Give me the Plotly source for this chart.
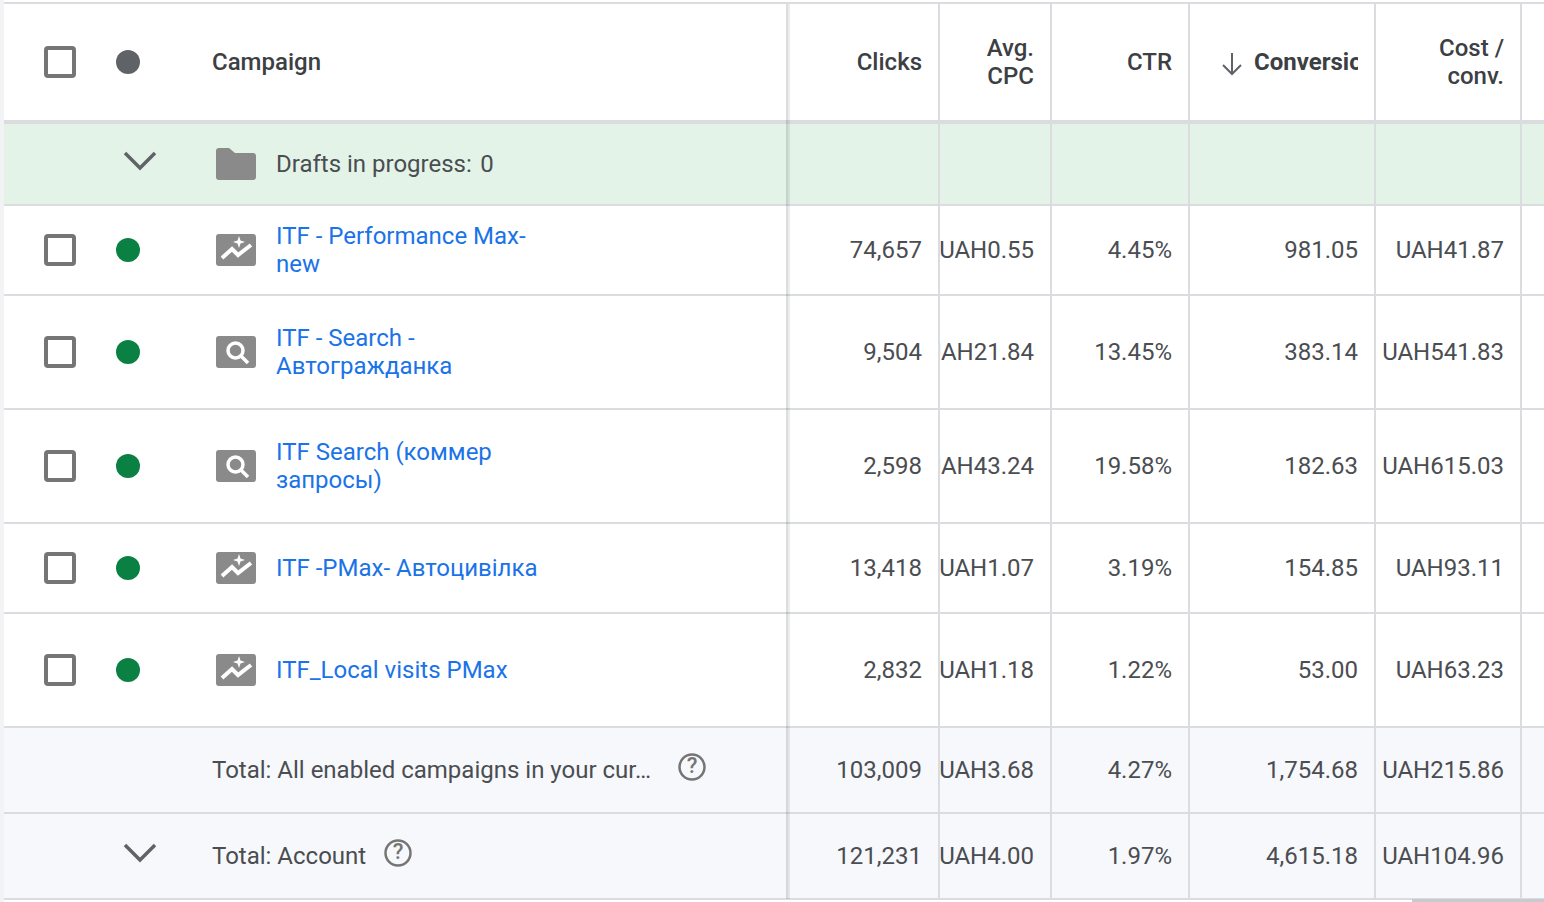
import plotly.graph_objects as go

# table content
headers = ["Clicks", "Avg.<br>CPC", "CTR", "Conversions", "Cost /<br>conv."]
campaigns = ["ITF - Performance Max-<br>new", "ITF - Search -<br>Автогражданка",
             "ITF Search (коммер<br>запросы)", "ITF -PMax- Автоцивілка", "ITF_Local visits PMax"]
campaign_types = ["pmax", "search", "search", "pmax", "pmax"]
clicks = ["74,657", "9,504", "2,598", "13,418", "2,832", "103,009", "121,231"]
avg_cpc = ["UAH0.55", "UAH21.84", "UAH43.24", "UAH1.07", "UAH1.18", "UAH3.68", "UAH4.00"]
ctr = ["4.45%", "13.45%", "19.58%", "3.19%", "1.22%", "4.27%", "1.97%"]
conversions = ["981.05", "383.14", "182.63", "154.85", "53.00", "1,754.68", "4,615.18"]
cost_conv = ["UAH41.87", "UAH541.83", "UAH615.03", "UAH93.11", "UAH63.23", "UAH215.86", "UAH104.96"]
drafts_label = "Drafts in progress:\u200a 0"
total_labels = ["Total: All enabled campaigns in your cur…", "Total: Account"]

# layout of the table, in screenshot pixels
row_y = [250, 352, 466, 568, 670, 770, 856]
h_lines = [3, 205, 295, 409, 523, 613, 727, 813, 899]
v_lines = [939, 1051, 1189, 1375, 1521]
col_right = [922, 1034, 1172, 1358, 1504]
TEXT_DY = 2

DARK = "#3c4043"
BODY = "#4a4d51"
BLUE = "#1a73e8"
GREY = "#757575"
ICON = "#8a8a8a"
LINE = "#dadce0"
FONT = "Roboto"
SIZE = 24

fig = go.Figure()
shapes = []


def rect(x0, y0, x1, y1, fill, layer="below"):
    shapes.append(dict(type="rect", x0=x0, y0=y0, x1=x1, y1=y1, fillcolor=fill,
                       line=dict(width=0), layer=layer))


def path(d, fill=None, color=None, width=0, layer="above"):
    shapes.append(dict(type="path", path=d, fillcolor=fill or "rgba(0,0,0,0)",
                       line=dict(color=color or "rgba(0,0,0,0)", width=width), layer=layer))


def round_rect(x0, y0, x1, y1, r):
    return (f"M{x0+r},{y0} L{x1-r},{y0} Q{x1},{y0} {x1},{y0+r} L{x1},{y1-r} Q{x1},{y1} {x1-r},{y1} "
            f"L{x0+r},{y1} Q{x0},{y1} {x0},{y1-r} L{x0},{y0+r} Q{x0},{y0} {x0+r},{y0} Z")


def checkbox(cy):
    path(round_rect(46, cy - 14, 74, cy + 14, 2), fill="white", color=GREY, width=4)


def chevron(cy):
    path(f"M125,{cy-8} L140,{cy+7} L155,{cy-8}", color="#5f6368", width=3.5)


def pmax_icon(cy):
    path(round_rect(216, cy - 16, 256, cy + 16, 3), fill=ICON)
    path(f"M222,{cy+8} L232,{cy-1} L238,{cy+5} L251,{cy-5}", color="white", width=4)
    sx, sy = 239, cy - 8
    path(f"M{sx},{sy-6} L{sx+1.5},{sy-1.5} L{sx+6},{sy} L{sx+1.5},{sy+1.5} L{sx},{sy+6} "
         f"L{sx-1.5},{sy+1.5} L{sx-6},{sy} L{sx-1.5},{sy-1.5} Z", fill="white")


def search_icon(cy):
    path(round_rect(216, cy - 16, 256, cy + 16, 3), fill=ICON)
    shapes.append(dict(type="circle", x0=228, y0=cy - 9, x1=243, y1=cy + 6, fillcolor="rgba(0,0,0,0)",
                       line=dict(color="white", width=3.5), layer="above"))
    path(f"M241,{cy+4} L248,{cy+11}", color="white", width=3.5)


def folder_icon():
    path("M219,148 L229,148 L235,153 L253,153 Q256,153 256,156 L256,177 Q256,180 253,180 "
         "L219,180 Q216,180 216,177 L216,151 Q216,148 219,148 Z", fill=ICON)


def help_icon(cx, cy):
    shapes.append(dict(type="circle", x0=cx - 12.5, y0=cy - 12.5, x1=cx + 12.5, y1=cy + 12.5,
                       fillcolor="rgba(0,0,0,0)", line=dict(color=GREY, width=2.5), layer="above"))
    fig.add_trace(go.Scatter(x=[cx], y=[cy], mode="text", text=["?"], textposition="middle center",
                             textfont=dict(family=FONT, size=22, color=GREY, weight=500)))


def add_text(xs, ys, texts, color=BODY, pos="middle left", size=SIZE, weight=400):
    fig.add_trace(go.Scatter(x=xs, y=[y + TEXT_DY for y in ys], mode="text", text=texts, textposition=pos,
                             textfont=dict(family=FONT, size=size, color=color, weight=weight)))


def split_lines(labels, ys, gap=14):
    # two line labels sit either side of the row centre, 28px apart
    out_t, out_y = [], []
    for label, y in zip(labels, ys):
        parts = label.split("<br>")
        for i, part in enumerate(parts):
            out_t.append(part)
            out_y.append(y + (2 * i - len(parts) + 1) * gap)
    return out_t, out_y


# backgrounds
rect(0, 0, 4, 902, "#f1f3f4")
rect(4, 124, 1544, 204, "#e4f3e8")
rect(4, 727, 1544, 899, "#f7f8fb")

# grid
for x in v_lines:
    rect(x - 1, 4, x + 1, 899, LINE)
for y in h_lines:
    rect(4, y - 1, 1544, y + 1, LINE)
rect(4, 120, 1544, 124, LINE)
# shadow of the frozen column, it has to stay see-through over the row colours
rect(786, 4, 788, 899, "rgba(60,64,67,0.18)")
rect(788, 4, 790, 899, "rgba(60,64,67,0.10)")
rect(1412, 899, 1544, 902, "#c9cacd")

# header row
checkbox(62)
chevron(161)
folder_icon()
add_text([212], [62], ["Campaign"], color=DARK, pos="middle right", weight=500)
for x, label, i in zip(col_right, headers, range(5)):
    t, y = split_lines([label], [62])
    if i == 3:
        # sorted column, the label starts after the arrow and runs out of its cell
        add_text([1254], y, t, color=DARK, pos="middle right", weight=700)
    else:
        add_text([x] * len(t), y, t, color=DARK, weight=500)
path("M1232,53 L1232,74 M1223,65 L1232,74 L1241,65", color="#5f6368", width=2)

# status dots
fig.add_trace(go.Scatter(x=[128], y=[62], mode="markers", marker=dict(size=24, color="#5f6368")))
fig.add_trace(go.Scatter(x=[128] * 5, y=row_y[:5], mode="markers", marker=dict(size=24, color="#0b8043")))

# drafts row
add_text([276], [164], [drafts_label], pos="middle right")

# campaign rows
for y, kind in zip(row_y[:5], campaign_types):
    checkbox(y)
    if kind == "pmax":
        pmax_icon(y)
    else:
        search_icon(y)
names, name_y = split_lines(campaigns, row_y[:5])
add_text([276] * len(names), name_y, names, color=BLUE, pos="middle right")

# total rows
add_text([212, 212], row_y[5:], total_labels, pos="middle right")
chevron(853)
help_icon(692, 767)
help_icon(398, 853)

# metric columns
for x, values in zip(col_right, [clicks, avg_cpc, ctr, conversions, cost_conv]):
    add_text([x] * len(values), row_y, values)

# cells clip their overflow in the original
rect(923, 300, 940, 405, "white", layer="above")
rect(923, 412, 940, 520, "white", layer="above")
rect(938, 300, 940, 405, LINE, layer="above")
rect(938, 412, 940, 520, LINE, layer="above")
rect(1358, 30, 1395, 95, "white", layer="above")
rect(1374, 30, 1376, 95, LINE, layer="above")

fig.update_layout(
    width=1544, height=902,
    margin=dict(l=0, r=0, t=0, b=0),
    paper_bgcolor="white", plot_bgcolor="white",
    showlegend=False,
    shapes=shapes,
    xaxis=dict(range=[0, 1544], visible=False, fixedrange=True),
    yaxis=dict(range=[902, 0], visible=False, fixedrange=True),
)

fig.write_html("out.html", config=dict(displayModeBar=False),
               post_script="document.body.style.margin='0';document.body.style.overflow='hidden';")
